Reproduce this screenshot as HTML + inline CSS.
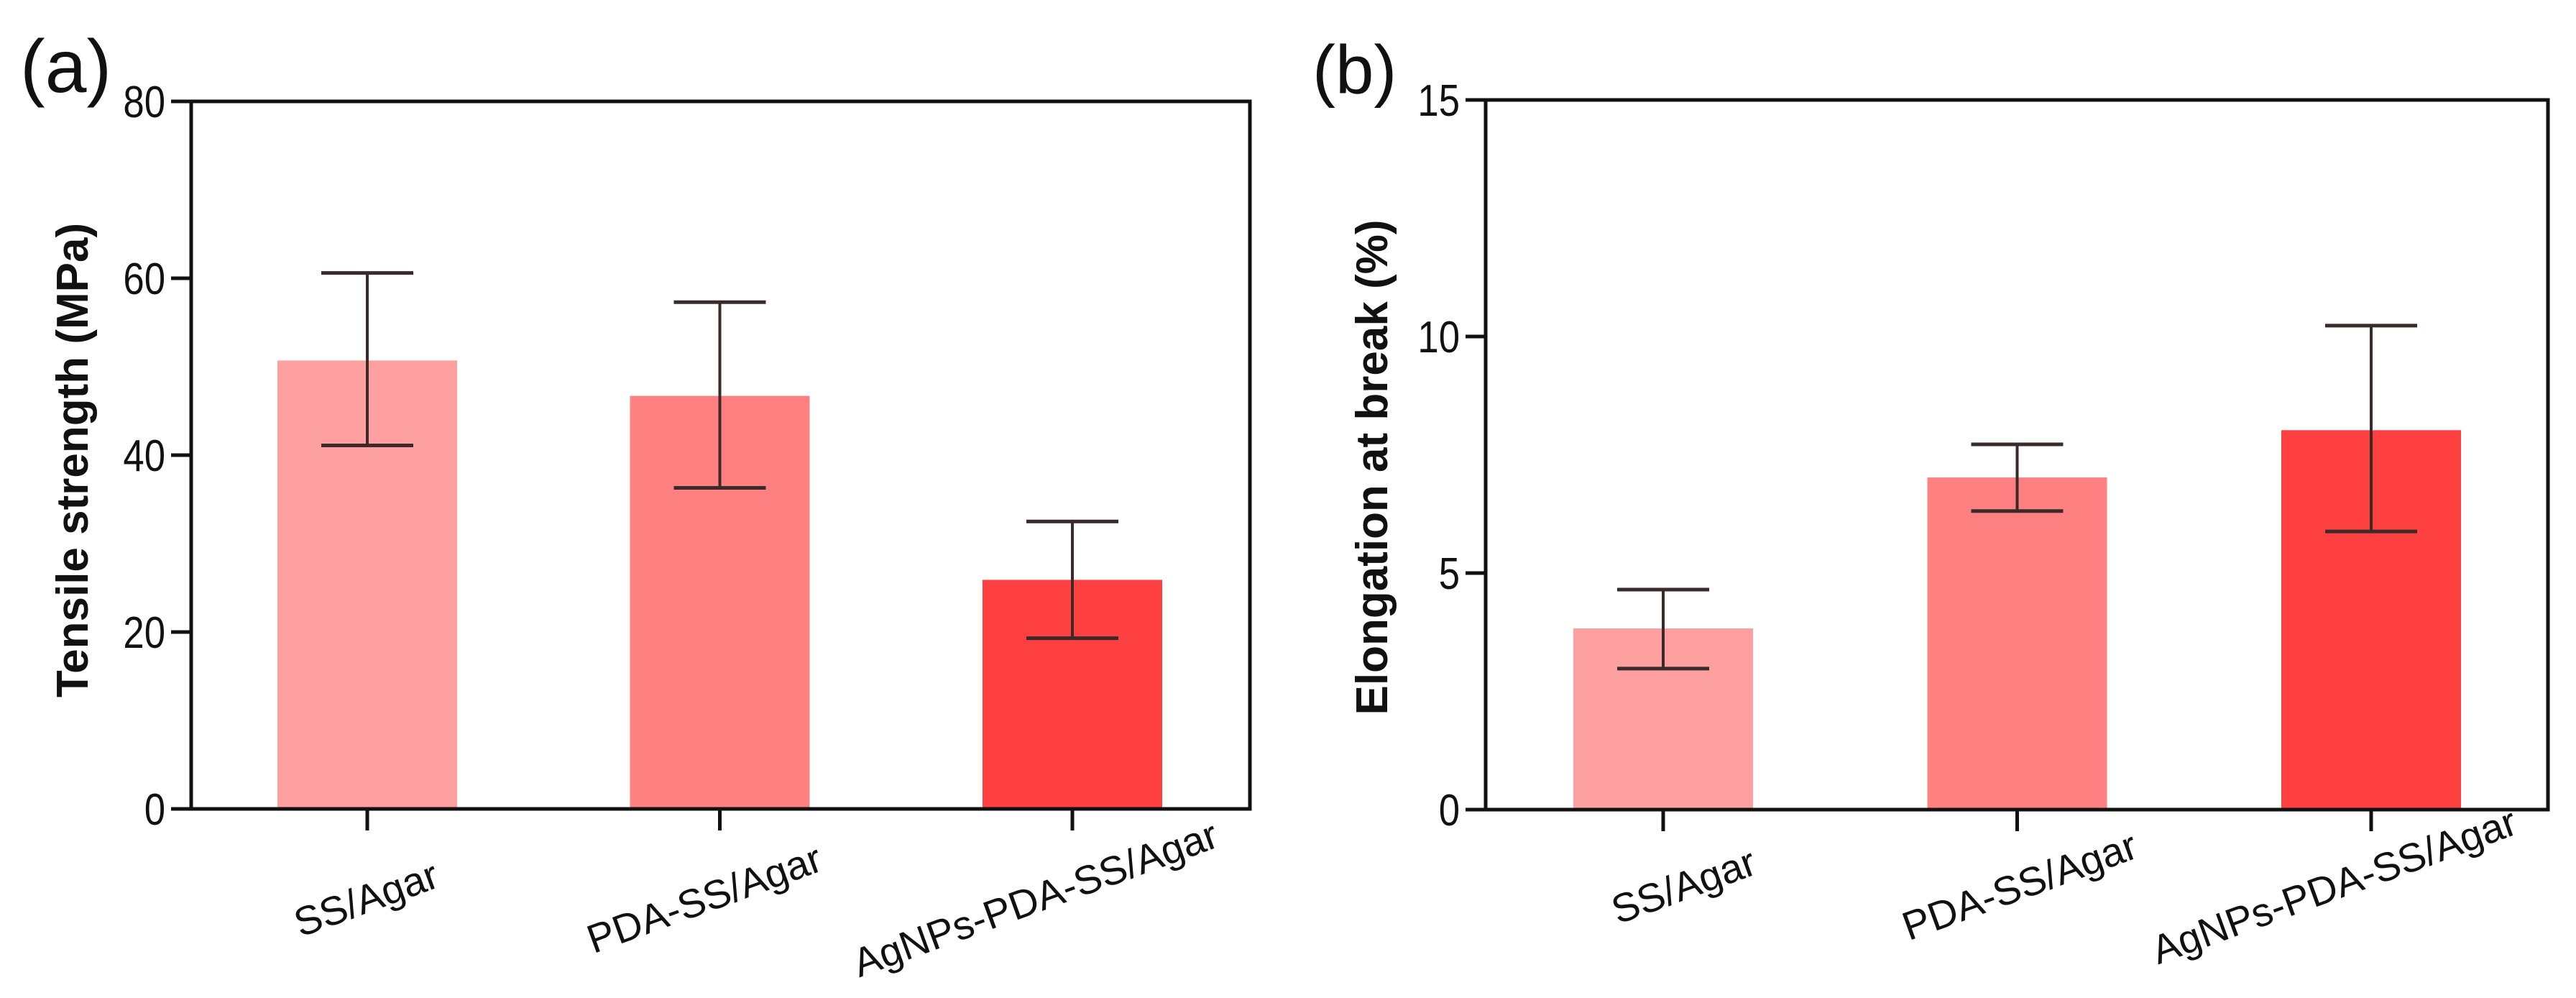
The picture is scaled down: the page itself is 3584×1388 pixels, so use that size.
<!DOCTYPE html>
<html><head><meta charset="utf-8"><style>
html,body{margin:0;padding:0;background:#fff}
svg{display:block}
text{font-family:"Liberation Sans",Arial,sans-serif}
</style></head><body>
<svg id="chart" width="3584" height="1388" viewBox="0 0 3584 1388" xmlns="http://www.w3.org/2000/svg"></svg>
<script>
const categories = ["SS/Agar", "PDA-SS/Agar", "AgNPs-PDA-SS/Agar"];
const tensileValues = [50.7, 46.7, 25.9];
const tensileErrHigh = [60.6, 57.3, 32.5];
const tensileErrLow = [41.1, 36.3, 19.3];
const tensileTicks = [0, 20, 40, 60, 80];
const elongValues = [3.83, 7.02, 8.02];
const elongErrHigh = [4.65, 7.72, 10.23];
const elongErrLow = [2.98, 6.31, 5.88];
const elongTicks = [0, 5, 10, 15];
const barColors = ["#FFA0A0", "#FF8080", "#FF4040"];

const NS = "http://www.w3.org/2000/svg";
const svg = document.getElementById("chart");
function mk(tag, attrs, parent) {
  const e = document.createElementNS(NS, tag);
  for (const k in attrs) e.setAttribute(k, attrs[k]);
  (parent || svg).appendChild(e);
  return e;
}

function panel(cfg) {
  const g = mk("g", {});
  
  
  const y = v => cfg.bottom - (v - cfg.min) / (cfg.max - cfg.min) * (cfg.bottom - cfg.top);
  const x = i => cfg.left + cfg.first + i * cfg.step;
  cfg.values.forEach((v, i) => {
    const r = mk("rect", {x: x(i) - cfg.barW / 2, y: y(v), width: cfg.barW, height: y(cfg.min) - y(v), fill: barColors[i]}, g);
    
    
  });
  cfg.values.forEach((v, i) => {
    const eg = mk("g", {stroke: "#3a2a2a", "stroke-width": 4, fill: "none"}, g);
    
    
    mk("line", {x1: x(i), x2: x(i), y1: y(cfg.hi[i]), y2: y(cfg.lo[i])}, eg);
    mk("line", {x1: x(i) - 64, x2: x(i) + 64, y1: y(cfg.hi[i]), y2: y(cfg.hi[i]), "stroke-width": 5}, eg);
    mk("line", {x1: x(i) - 64, x2: x(i) + 64, y1: y(cfg.lo[i]), y2: y(cfg.lo[i]), "stroke-width": 5}, eg);
  });
  const f = mk("rect", {x: cfg.left, y: cfg.top, width: cfg.right - cfg.left, height: cfg.bottom - cfg.top, fill: "none", stroke: "#111", "stroke-width": 5}, g);
  
  
  cfg.ticks.forEach(t => {
    mk("line", {x1: cfg.left - 28, x2: cfg.left, y1: y(t), y2: y(t), stroke: "#111", "stroke-width": 5}, g);
    const tx = mk("text", {transform: `translate(${cfg.left - 36},${y(t) + 22}) scale(0.85,1)`, "text-anchor": "end", "font-size": 62, fill: "#111"}, g);
    tx.textContent = t;
    
    
  });
  categories.forEach((c, i) => {
    mk("line", {x1: x(i), x2: x(i), y1: cfg.bottom, y2: cfg.bottom + 30, stroke: "#111", "stroke-width": 5}, g);
    const tx = mk("text", {transform: `translate(${x(i) + cfg.labDx[i]},${cfg.labY}) rotate(-20)`, "text-anchor": "middle", "font-size": 56, fill: "#111"}, g);
    tx.textContent = c;
    
    
  });
  const tt = mk("text", {transform: `translate(${cfg.titleX},${cfg.titleY}) rotate(-90)`, "text-anchor": "middle", "font-size": cfg.titleSize, "font-weight": "bold", fill: "#111"}, g);
  tt.textContent = cfg.title;
  
  
  const pl = mk("text", {x: cfg.plX, y: cfg.plY, "font-size": cfg.plSize, fill: "#111"}, g);
  pl.textContent = cfg.panelLabel;
  
  
}

panel({name: "tensile-strength-chart", left: 266, right: 1739, top: 141, bottom: 1125, min: 0, max: 80,
  first: 245, step: 490.5, barW: 250, values: tensileValues, hi: tensileErrHigh, lo: tensileErrLow, ticks: tensileTicks,
  labDx: [5, -15, -45], labY: 1268, title: "Tensile strength (MPa)", titleX: 122, titleY: 640, titleSize: 62,
  panelLabel: "(a)", plX: 28, plY: 128, plSize: 104});
panel({name: "elongation-chart", left: 2067, right: 3545, top: 139, bottom: 1126, min: 0, max: 15,
  first: 247, step: 492.5, barW: 250, values: elongValues, hi: elongErrHigh, lo: elongErrLow, ticks: elongTicks,
  labDx: [35, 10, -45], labY: 1250, title: "Elongation at break (%)", titleX: 1930, titleY: 650, titleSize: 62,
  panelLabel: "(b)", plX: 1826, plY: 130, plSize: 96});
</script>
</body></html>
